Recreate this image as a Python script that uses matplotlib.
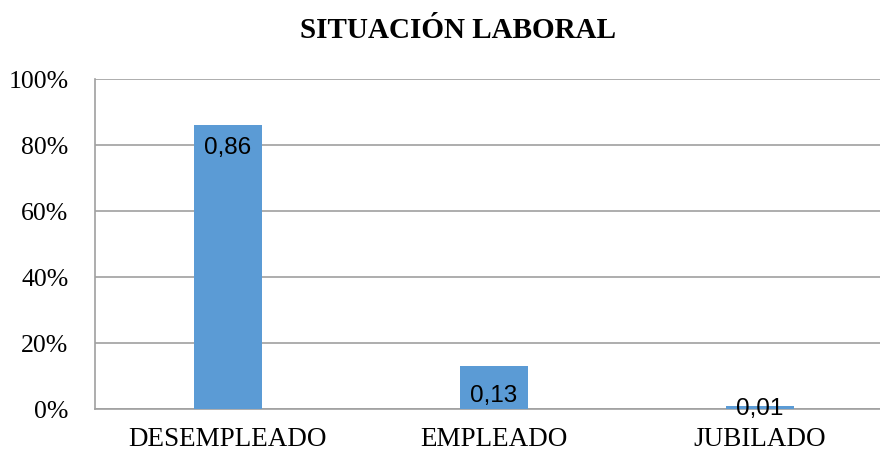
import matplotlib.pyplot as plt
from matplotlib.ticker import PercentFormatter

categorias = ['DESEMPLEADO', 'EMPLEADO', 'JUBILADO']
valores = [0.86, 0.13, 0.01]
etiquetas = ['0,86', '0,13', '0,01']
yticks = [0, 0.2, 0.4, 0.6, 0.8, 1.0]

plt.rcParams['font.family'] = ['Liberation Serif', 'DejaVu Serif']

fig = plt.figure(figsize=(8.8, 4.54), dpi=100)
ax = fig.add_axes([95 / 880, 1 - 409 / 454, 1 - 95 / 880, (409 - 79) / 454])

x = list(range(len(categorias)))
ax.bar(x, valores, width=0.252, color='#5B9BD5', zorder=3)

# etiquetas de datos tipo Excel (extremo interior)
for xi, v, lab in zip(x, valores, etiquetas):
    ypos = v - 0.07 if v > 0.2 else max(v - 0.09, 0)
    ax.text(xi, ypos, lab, ha='center', va='center', fontsize=17.5,
            family=['Liberation Sans', 'DejaVu Sans'], zorder=4)

ax.set_ylim(0, 1)
ax.set_xlim(-0.5, (880 - 95) / 266 - 0.5)
ax.set_yticks(yticks)
ax.yaxis.set_major_formatter(PercentFormatter(1.0, decimals=0))
ax.set_xticks(x)
ax.set_xticklabels(categorias)
ax.tick_params(axis='both', length=0, colors='black')
ax.tick_params(axis='y', labelsize=18.5, pad=19)
ax.tick_params(axis='x', labelsize=19.5, pad=13)
ax.grid(axis='y', color='#a0a0a0', linewidth=1.2, zorder=0)

for s in ['top', 'right']:
    ax.spines[s].set_visible(False)
for s in ['left', 'bottom']:
    ax.spines[s].set_color('#a0a0a0')
    ax.spines[s].set_linewidth(1.2)

fig.text(458 / 880, 1 - 31 / 454, 'SITUACIÓN LABORAL', ha='center', va='center',
         fontsize=21, fontweight='bold')

fig.savefig('out.png', dpi=100)
